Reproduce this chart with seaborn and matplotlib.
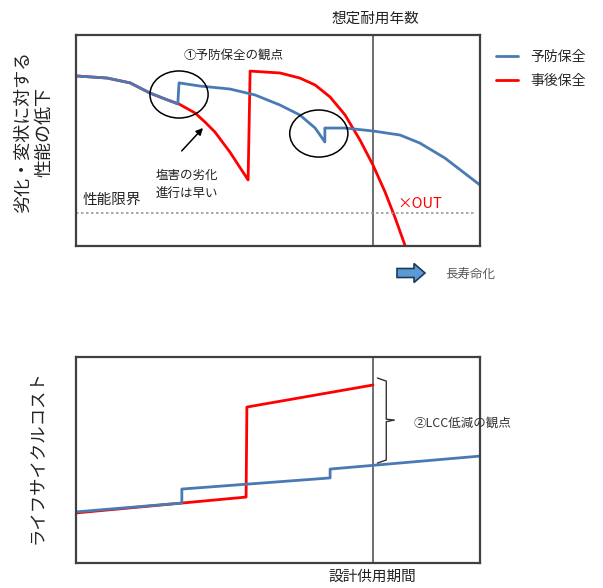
import numpy as np
import pandas as pd
import matplotlib
matplotlib.use("Agg")
import matplotlib.pyplot as plt
import seaborn as sns
from matplotlib.patches import Ellipse, FancyArrow
from matplotlib.transforms import IdentityTransform

sns.set_theme(style="white")
plt.rcParams['font.family'] = ['Noto Sans CJK JP', 'DejaVu Sans']

# ---------------- data (0-100 scales) ----------------
series_names = ["予防保全", "事後保全"]

# Top chart: performance vs time
prev_x = [0, 7.7, 13.4, 18.3, 22.0, 25.2, 25.5, 30.7, 38.1, 44.3, 50.5, 55.4,
          59.2, 61.6, 61.6, 66.6, 73.5, 80.2, 85.1, 91.3, 100]
prev_y = [80.6, 79.6, 77.3, 72.5, 69.7, 67.3, 77.3, 75.8, 74.4, 71.6, 66.8, 62.1,
          55.9, 49.3, 55.9, 55.9, 54.5, 52.6, 48.8, 41.7, 28.9]
post_x = [0, 7.7, 13.4, 18.3, 22.0, 25.5, 29.5, 31.9, 34.4, 38.1, 42.6, 43.1,
          50.5, 55.4, 59.2, 62.9, 66.6, 70.3, 73.5, 76.5, 79.0, 81.4]
post_y = [80.6, 79.6, 77.3, 72.5, 69.7, 67.3, 63.0, 58.8, 54.0, 44.5, 31.3, 82.9,
          82.0, 79.6, 76.3, 70.6, 62.1, 50.2, 38.4, 25.6, 13.3, 0.5]
limit_level = 15.6
design_life = 73.5

# Bottom chart: life-cycle cost vs time
lcc_prev_x = [0, 26.2, 26.2, 62.9, 62.9, 100]
lcc_prev_y = [24.8, 29.1, 35.9, 41.3, 45.6, 51.9]
lcc_post_x = [0, 26.2, 42.1, 42.3, 73.5]
lcc_post_y = [24.3, 29.1, 32.0, 75.7, 86.4]

BLUE = "#4a7ab4"
RED = "#ff0000"
palette = {series_names[0]: BLUE, series_names[1]: RED}

top_df = pd.concat([
    pd.DataFrame({"t": prev_x, "v": prev_y, "series": series_names[0]}),
    pd.DataFrame({"t": post_x, "v": post_y, "series": series_names[1]}),
])
bot_df = pd.concat([
    pd.DataFrame({"t": lcc_prev_x, "v": lcc_prev_y, "series": series_names[0]}),
    pd.DataFrame({"t": lcc_post_x, "v": lcc_post_y, "series": series_names[1]}),
])

W, H = 603, 588
fig = plt.figure(figsize=(W / 100, H / 100), dpi=100)
ax1 = fig.add_axes([76 / W, 1 - 246 / H, 404 / W, 211 / H])
ax2 = fig.add_axes([76 / W, 1 - 563 / H, 404 / W, 206 / H])

# draw red first (under), blue on top
sns.lineplot(data=top_df, x="t", y="v", hue="series", hue_order=series_names[::-1],
             palette=palette, sort=False, estimator=None, lw=2, ax=ax1, legend=True)
sns.lineplot(data=bot_df, x="t", y="v", hue="series", hue_order=series_names[::-1],
             palette=palette, sort=False, estimator=None, lw=2, ax=ax2, legend=False)

for ax in (ax1, ax2):
    ax.set_xlim(0, 100)
    ax.set_ylim(0, 100)
    ax.set_xticks([])
    ax.set_yticks([])
    ax.set_xlabel("")
    ax.set_ylabel("")
    for s in ax.spines.values():
        s.set_color("#404040")
        s.set_linewidth(1.6)
    ax.axvline(design_life, color="#555555", lw=1.2, zorder=1)

# legend
h, l = ax1.get_legend_handles_labels()
order = [l.index(n) for n in series_names]
ax1.legend([h[i] for i in order], [l[i] for i in order], loc="upper left",
           bbox_to_anchor=(1.04, 0.93), frameon=False, fontsize=10,
           handlelength=1.6, handletextpad=0.85, labelspacing=0.75,
           borderaxespad=0, borderpad=0)

# performance limit line
ax1.plot([0, 99], [limit_level, limit_level], ls=(0, (1.5, 1.5)), color="#999999", lw=1.2)

# ellipses
for cx, cy in [(25.5, 71.8), (60.1, 53.3)]:
    ax1.add_patch(Ellipse((cx, cy), 14.4, 22.3, fill=False, ec="black", lw=1.1, zorder=5))

# arrow
ax1.annotate("", xy=(31.9, 56.9), xytext=(25.7, 44.1),
             arrowprops=dict(arrowstyle="-|>", color="black", lw=1.1, mutation_scale=10))

ax1.text(39.1, 90.5, "①予防保全の観点", ha="center", va="center", fontsize=9, color="#222222")
ax1.text(19.6, 29.0, "塩害の劣化\n進行は早い", ha="left", va="center", fontsize=9,
         color="#222222", linespacing=1.6)
ax1.text(1.7, 21.8, "性能限界", ha="left", va="center", fontsize=10.5, color="#222222")
ax1.text(79.5, 19.9, "×OUT", ha="left", va="center", fontsize=10.5, color=RED)

fig.text(375 / W, 1 - 19 / H, "想定耐用年数", ha="center", va="center", fontsize=10.5, color="#222222")
fig.text(372 / W, 1 - 577 / H, "設計供用期間", ha="center", va="center", fontsize=10.5, color="#222222")
fig.text(470 / W, 1 - 275 / H, "長寿命化", ha="center", va="center", fontsize=9, color="#595959")

fig.text(23 / W, 1 - 132 / H, "劣化・変状に対する", ha="center", va="center", rotation=90,
         fontsize=13, color="#222222")
fig.text(44 / W, 1 - 132 / H, "性能の低下", ha="center", va="center", rotation=90,
         fontsize=13, color="#222222")
fig.text(37 / W, 1 - 457 / H, "ライフサイクルコスト", ha="center", va="center", rotation=90,
         fontsize=12.5, color="#222222")

# block arrow (display pixel coords)
fig.add_artist(FancyArrow(397, H - 273, 28, 0, width=9, head_width=19, head_length=11,
                          length_includes_head=True, fc="#5b9bd5", ec="#1f3b5a", lw=1.2,
                          transform=IdentityTransform()))

# brace in bottom chart (axes data coords)
bx = [74.6, 76.8, 76.8, 78.8, 76.8, 76.8, 74.6]
by = [89.8, 88.3, 69.8, 69.4, 68.6, 50.0, 48.5]
ax2.plot(bx, by, color="#333333", lw=1.0, clip_on=False)
ax2.text(83.5, 68.0, "②LCC低減の観点", ha="left", va="center", fontsize=9, color="#333333")

fig.savefig("out.png", dpi=100)
